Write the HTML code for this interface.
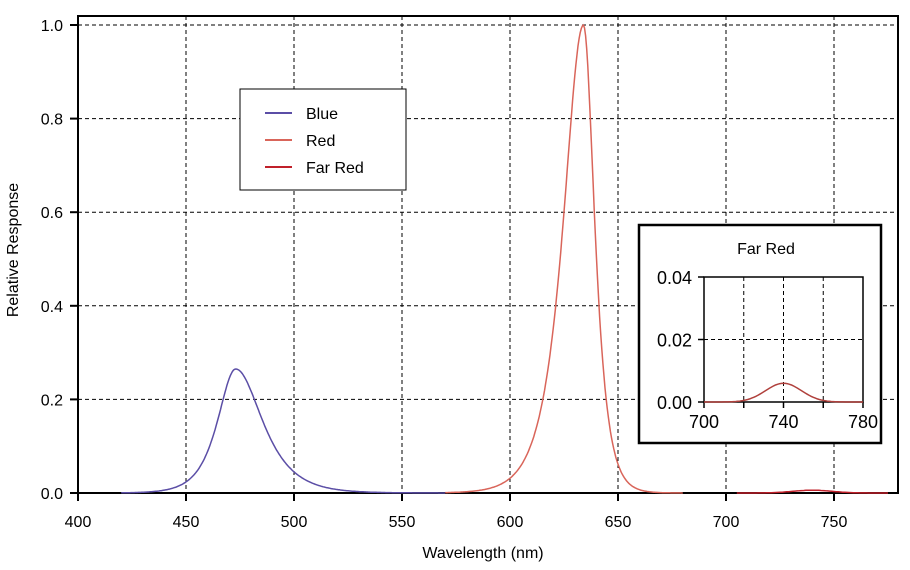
<!DOCTYPE html>
<html><head><meta charset="utf-8"><style>
body{margin:0;background:#fff}
svg{font-family:"Liberation Sans",sans-serif;display:block}
</style></head><body>
<svg id="s" width="910" height="570" xmlns="http://www.w3.org/2000/svg">
<g id="grid" stroke="#000" stroke-width="1" stroke-dasharray="4,3"></g>
<rect x="78" y="16" width="820" height="477" fill="none" stroke="#000" stroke-width="2"/>
<g id="ticks" stroke="#000" stroke-width="2"></g>
<g id="lab" font-size="16" fill="#000"></g>
<path id="blue" fill="none" stroke="#5b4ea6" stroke-width="1.5"/>
<path id="red" fill="none" stroke="#d9655a" stroke-width="1.5"/>
<path id="fr" fill="none" stroke="#c0202a" stroke-width="1.5"/>
<text x="483" y="558" font-size="16" text-anchor="middle">Wavelength (nm)</text>
<text transform="translate(18,250) rotate(-90)" font-size="16" text-anchor="middle">Relative Response</text>
<rect x="240" y="89" width="166" height="101" fill="#fff" stroke="#000" stroke-width="1"/>
<line x1="265" y1="113" x2="292" y2="113" stroke="#5b4ea6" stroke-width="2"/>
<line x1="265" y1="140" x2="292" y2="140" stroke="#d9655a" stroke-width="2"/>
<line x1="265" y1="167" x2="292" y2="167" stroke="#c0202a" stroke-width="2"/>
<text x="306" y="119" font-size="16">Blue</text>
<text x="306" y="146" font-size="16">Red</text>
<text x="306" y="173" font-size="16">Far Red</text>
<rect x="639" y="225" width="242" height="218" fill="#fff" stroke="#000" stroke-width="2.5"/>
<text x="766" y="254" font-size="16" text-anchor="middle">Far Red</text>
<g id="igrid" stroke="#000" stroke-width="1" stroke-dasharray="4,3"></g>
<rect x="704" y="277" width="159" height="125" fill="none" stroke="#000" stroke-width="1.5"/>
<g id="iticks" stroke="#000" stroke-width="1.5"></g>
<g id="ilab" font-size="18" fill="#000"></g>
<path id="ifr" fill="none" stroke="#b0403c" stroke-width="1.5"/>
</svg>
<script>
const NS="http://www.w3.org/2000/svg";
function el(p,t,a,txt){const e=document.createElementNS(NS,t);for(const k in a)e.setAttribute(k,a[k]);if(txt!==undefined)e.textContent=txt;document.getElementById(p).appendChild(e);}
const X=n=>78+(n-400)*2.16, Y=v=>493-v*468;
for(let n=450;n<=750;n+=50)el("grid","line",{x1:X(n),y1:16,x2:X(n),y2:493});
for(let v=0.2;v<=1.01;v+=0.2)el("grid","line",{x1:78,y1:Y(v),x2:898,y2:Y(v)});
for(let n=400;n<=750;n+=50){el("ticks","line",{x1:X(n),y1:493,x2:X(n),y2:501});el("lab","text",{x:X(n),y:527,"text-anchor":"middle"},String(n));}
for(let i=0;i<=5;i++){const v=i*0.2;el("ticks","line",{x1:70,y1:Y(v),x2:78,y2:Y(v)});el("lab","text",{x:63,y:Y(v)+6,"text-anchor":"end"},v.toFixed(1));}
const sech=x=>2/(Math.exp(x)+Math.exp(-x));
function peak(c,A,wl,wr,a,b){let d="";for(let n=a;n<=b;n+=0.5){const dd=n-c;const v=A*sech(Math.abs(dd)/(dd<0?wl:wr));d+=(d?"L":"M")+X(n).toFixed(1)+","+Y(v).toFixed(1);}return d;}
document.getElementById("blue").setAttribute("d",peak(473,0.265,7.4,11,420,570));
document.getElementById("red").setAttribute("d",peak(634,1.0,8.2,4.6,570,680));
let d="";for(let n=705;n<=775;n+=1){const v=0.006*Math.exp(-((n-740)**2)/(2*9*9));d+=(d?"L":"M")+X(n).toFixed(1)+","+Y(v).toFixed(1);}
document.getElementById("fr").setAttribute("d",d);
const IX=n=>704+(n-700)*159/80, IY=v=>402-v*125/0.04;
for(const n of [720,740,760])el("igrid","line",{x1:IX(n),y1:277,x2:IX(n),y2:402});
for(const v of [0.02])el("igrid","line",{x1:704,y1:IY(v),x2:863,y2:IY(v)});
for(const n of [700,720,740,760,780])el("iticks","line",{x1:IX(n),y1:402,x2:IX(n),y2:408});
for(const n of [700,740,780])el("ilab","text",{x:IX(n),y:428,"text-anchor":"middle"},String(n));
for(const v of [0,0.02,0.04]){el("iticks","line",{x1:698,y1:IY(v),x2:704,y2:IY(v)});el("ilab","text",{x:692,y:IY(v)+7,"text-anchor":"end"},v.toFixed(2));}
d="";for(let n=700;n<=780;n+=1){const v=0.006*Math.exp(-((n-740)**2)/(2*9*9));d+=(d?"L":"M")+IX(n).toFixed(1)+","+IY(v).toFixed(1);}
document.getElementById("ifr").setAttribute("d",d);
</script>
</body></html>
